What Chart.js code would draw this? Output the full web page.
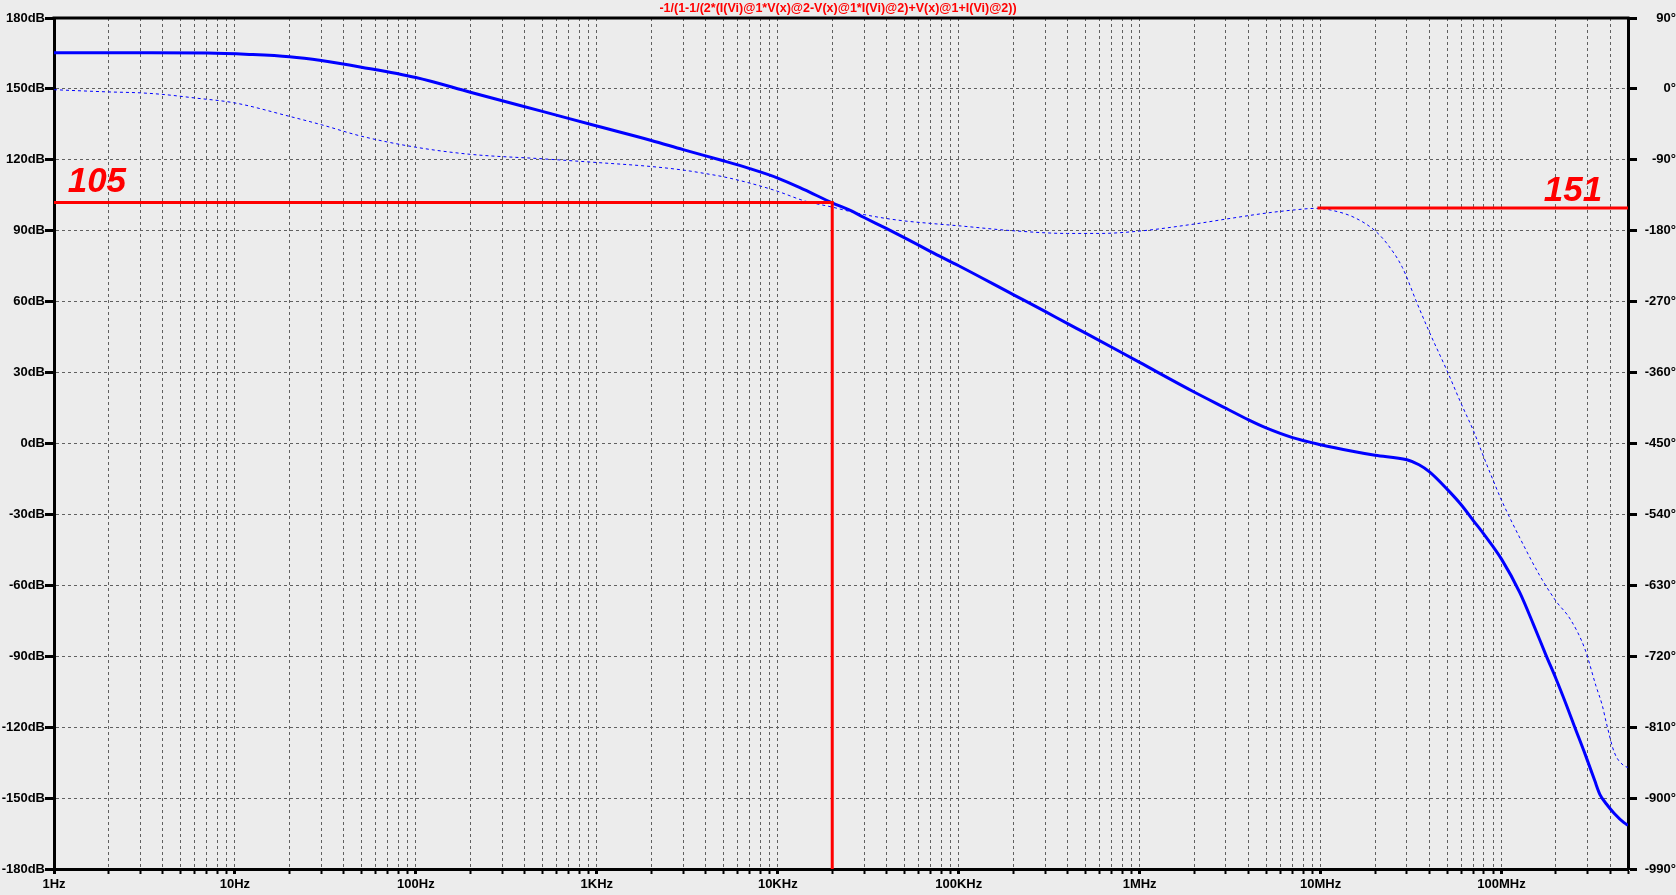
<!DOCTYPE html>
<html><head><meta charset="utf-8">
<script src="https://cdn.jsdelivr.net/npm/chart.js@4.4.1/dist/chart.umd.min.js"></script>
<style>html,body{margin:0;padding:0;background:#ececec;overflow:hidden}canvas{display:block}</style>
</head><body>
<canvas id="c" width="1676" height="895"></canvas>
<script>
// ---- data ----
const TITLE = "-1/(1-1/(2*(I(Vi)@1*V(x)@2-V(x)@1*I(Vi)@2)+V(x)@1+I(Vi)@2))";

const magFreq = [1, 3, 7, 12, 20, 30, 50, 100, 200, 300, 500, 1000, 2000, 3000, 5000, 7000, 10000, 14000, 20000, 25000, 30000, 40000, 50000, 70000, 1e5, 2e5, 3e5, 4e5, 5e5, 1e6, 2e6, 3e6, 4e6, 5e6, 7e6, 1e7, 1.5e7, 2e7, 3e7, 3.5e7, 4e7, 5e7, 6e7, 7e7, 8e7, 1e8, 1.26e8, 1.5e8, 1.76e8, 2e8, 2.28e8, 2.54e8, 2.9e8, 3.27e8, 3.5e8, 3.8e8, 4.2e8, 4.75e8, 5e8];
const magDb = [165.3, 165.3, 165.2, 164.6, 163.6, 162, 159.2, 154.8, 148.6, 145.0, 140.5, 134.3, 128.2, 124.3, 119.6, 116.3, 112.3, 107.4, 101.8, 98.7, 95.6, 90.9, 87.1, 81.2, 75.2, 63.0, 55.9, 50.7, 46.8, 34.3, 21.8, 14.9, 10.0, 6.6, 2.5, -0.5, -3.3, -5.0, -6.9, -9, -12, -19.3, -26, -32.7, -38.4, -48.9, -63, -76.5, -89.5, -99.5, -110.5, -120, -131.5, -142.5, -148.5, -152.5, -156.5, -160.4, -161.5];

const phFreq = [1, 2, 3, 4, 6, 10, 20, 30, 50, 100, 200, 500, 1000, 2000, 3000, 4000, 5000, 7000, 10000, 14000, 20000, 25000, 30000, 40000, 50000, 70000, 1e5, 2e5, 4e5, 6e5, 1e6, 2e6, 3e6, 5e6, 7e6, 9.4e6, 1.14e7, 1.53e7, 2e7, 2.34e7, 2.83e7, 3.4e7, 4e7, 5e7, 6e7, 7e7, 8e7, 9e7, 1e8, 1.27e8, 1.63e8, 2e8, 2.4e8, 2.88e8, 3.33e8, 3.6e8, 3.8e8, 4.2e8, 4.75e8, 5e8];
const phDeg = [-1, -3.8, -5, -7, -11.5, -17.8, -34.8, -45.4, -60, -74, -83, -88.7, -93.4, -98.5, -103, -107.5, -111.5, -119.5, -130, -142, -150, -155.5, -159.5, -164.5, -167.5, -170.7, -173.7, -180, -183.4, -183.4, -180.4, -171.5, -165.2, -157.6, -153.8, -151.6, -153.8, -163, -180, -197, -226.5, -271, -309, -357.7, -400, -434, -468, -497, -522, -571, -618, -650, -673, -710, -758, -782, -805, -842, -859, -861];

// gain crossover marker (left axis) and phase marker (right axis)
const gainMarkFreq = [1, 20000, 20000];
const gainMarkDb = [102, 102, -180];
const phaseMarkFreq = [9.6e6, 5e8];
const phaseMarkDeg = [-151.2, -151.2];
const markLabels = ['105', '151'];

// axis ticks
const xDecades = [1, 10, 100, 1e3, 1e4, 1e5, 1e6, 1e7, 1e8];
const xDecadeLabels = ['1Hz', '10Hz', '100Hz', '1KHz', '10KHz', '100KHz', '1MHz', '10MHz', '100MHz'];
const xMultipliers = [1, 2, 3, 4, 5, 6, 7, 8, 9];
const xMin = 1, xMax = 5e8;
const dbMin = -180, dbMax = 180, dbStep = 30;
const degMin = -990, degMax = 90, degStep = 90;

// ---- helpers ----
const pts = (xs, ys) => xs.map((x, i) => ({x: x, y: ys[i]}));
const xTickValues = [];
xDecades.forEach(d => xMultipliers.forEach(m => { const v = d * m; if (v <= xMax) xTickValues.push(v); }));
if (xTickValues[xTickValues.length - 1] < xMax) xTickValues.push(xMax);
const decadeIndex = v => xDecades.findIndex(d => Math.abs(v - d) / d < 1e-9);

const FONT = {family: "'Liberation Sans', Arial, sans-serif", size: 13, weight: 'bold'};
const GRID = '#606060';

const annotationPlugin = {
  id: 'marks',
  afterDatasetsDraw(chart) {
    const {ctx, scales, chartArea} = chart;
    ctx.save();
    ctx.fillStyle = '#ff0000';
    ctx.font = "italic bold 35px 'Liberation Sans', Arial, sans-serif";
    ctx.textBaseline = 'alphabetic';
    ctx.textAlign = 'left';
    ctx.fillText(markLabels[0], scales.x.getPixelForValue(1.19), scales.y.getPixelForValue(gainMarkDb[0]) - 10);
    ctx.textAlign = 'right';
    ctx.fillText(markLabels[1], scales.x.getPixelForValue(3.6e8), scales.y2.getPixelForValue(phaseMarkDeg[0]) - 7);
    // top frame line
    ctx.strokeStyle = '#000';
    ctx.lineWidth = 3;
    ctx.beginPath();
    ctx.moveTo(chartArea.left - 1.5, chartArea.top);
    ctx.lineTo(chartArea.right + 1.5, chartArea.top);
    ctx.stroke();
    ctx.restore();
  }
};

new Chart(document.getElementById('c'), {
  type: 'line',
  data: {
    datasets: [
      {data: pts(gainMarkFreq, gainMarkDb), yAxisID: 'y', borderColor: '#ff0000', borderWidth: 3, pointRadius: 0, tension: 0},
      {data: pts(phaseMarkFreq, phaseMarkDeg), yAxisID: 'y2', borderColor: '#ff0000', borderWidth: 3, pointRadius: 0, tension: 0},
      {data: pts(magFreq, magDb), yAxisID: 'y', borderColor: '#0000ff', borderWidth: 3, pointRadius: 0, cubicInterpolationMode: 'monotone'},
      {data: pts(phFreq, phDeg), yAxisID: 'y2', borderColor: '#0000ff', borderWidth: 1, borderDash: [3, 3], pointRadius: 0, cubicInterpolationMode: 'monotone'}
    ]
  },
  options: {
    responsive: false,
    animation: false,
    events: [],
    layout: {padding: 0},
    plugins: {
      legend: {display: false},
      tooltip: {enabled: false},
      title: {
        display: true, text: TITLE, color: '#ff0000',
        font: {family: "'Liberation Sans', Arial, sans-serif", size: 12.5, weight: 'bold', lineHeight: 1.12},
        padding: {top: 2, bottom: 2}
      }
    },
    scales: {
      x: {
        type: 'logarithmic', position: 'bottom', min: xMin, max: xMax,
        afterBuildTicks: s => { s.ticks = xTickValues.map(v => ({value: v, major: decadeIndex(v) >= 0})); },
        afterFit: s => { s.height = 26; },
        ticks: {
          autoSkip: false, maxRotation: 0, minRotation: 0, padding: 3, color: '#000', font: FONT,
          callback: v => { const i = decadeIndex(v); return i >= 0 ? xDecadeLabels[i] : ''; }
        },
        grid: {
          color: GRID, lineWidth: 1, drawTicks: true, tickLength: 5, tickColor: '#000',
          tickWidth: c => (c.tick && decadeIndex(c.tick.value) >= 0) ? 3 : 2
        },
        border: {display: true, color: '#000', width: 3, dash: [3, 3]}
      },
      y: {
        type: 'linear', position: 'left', min: dbMin, max: dbMax,
        afterFit: s => { s.width = 54; },
        ticks: {stepSize: dbStep, autoSkip: false, padding: 0, color: '#000', font: FONT, callback: v => v + 'dB'},
        grid: {color: GRID, lineWidth: 1, drawTicks: true, tickLength: 9, tickColor: '#000', tickWidth: 3},
        border: {display: true, color: '#000', width: 3, dash: [3, 3]}
      },
      y2: {
        type: 'linear', position: 'right', min: degMin, max: degMax,
        afterFit: s => { s.width = 48; },
        ticks: {stepSize: degStep, autoSkip: false, padding: -3, color: '#000', font: FONT, crossAlign: 'far', callback: v => v + '°'},
        grid: {drawOnChartArea: false, drawTicks: true, tickLength: 9, tickColor: '#000', tickWidth: 3},
        border: {display: true, color: '#000', width: 3}
      }
    }
  },
  plugins: [annotationPlugin]
});
</script>
</body></html>
